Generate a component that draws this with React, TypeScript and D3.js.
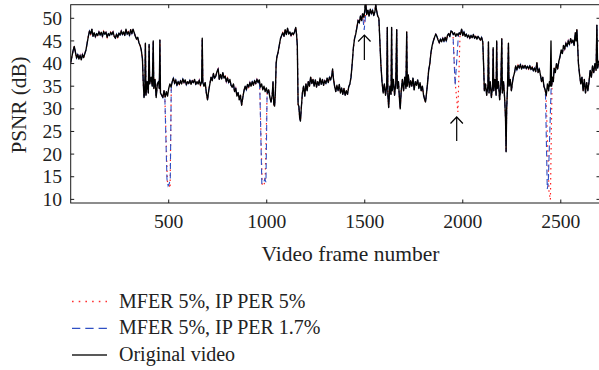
import React from "react";
import * as d3 from "d3";

// [frame, PSNR dB]
const originalVideo: [number, number][] = [
  [0, 40.2], [6, 41.5], [12, 42.8], [18, 43.8], [24, 42.5], [30, 41.2], [36, 42.0], [42, 41.0], [48, 41.8], [54, 40.8],
  [60, 42.0], [66, 41.3], [72, 42.2], [78, 43.0], [84, 44.5], [90, 46.0], [96, 47.2], [102, 46.5],
  [108, 47.6], [114, 46.0], [120, 46.8], [126, 45.9], [132, 46.6], [138, 46.2], [144, 47.0], [150, 46.3], [156, 46.9],
  [162, 46.0], [168, 47.1], [174, 46.5], [180, 46.9], [186, 45.8], [192, 46.6], [198, 46.2], [204, 46.9], [210, 46.4],
  [216, 47.0], [222, 46.0], [228, 45.6], [234, 46.5], [240, 45.8], [246, 46.7], [252, 46.3], [258, 47.2], [264, 46.4],
  [270, 47.0], [276, 46.2], [282, 47.6], [288, 46.5], [294, 47.0], [300, 46.2], [306, 47.5], [312, 46.6], [318, 47.6],
  [324, 46.8], [330, 46.0], [336, 45.4], [342, 45.8], [348, 44.6], [354, 44.0], [360, 43.0], [366, 41.0],
  [370, 36.0], [374, 32.5], [378, 34.0], [381, 44.5], [384, 33.0], [390, 36.0], [396, 33.5], [400, 44.2], [403, 35.5],
  [410, 37.0], [416, 35.0], [421, 45.0], [424, 34.5], [430, 36.5], [436, 32.5], [442, 35.5], [448, 36.0], [452, 34.5],
  [455, 45.2], [458, 33.5], [464, 33.0], [470, 32.5], [476, 34.0], [482, 32.6], [488, 33.8], [494, 32.8], [500, 34.5],
  [506, 35.5], [512, 34.8], [518, 36.0], [524, 36.8], [530, 35.6], [536, 36.4], [542, 35.2], [548, 36.0], [554, 35.4],
  [560, 36.2], [566, 35.5], [572, 36.6], [578, 35.8], [584, 36.4], [590, 35.3], [596, 36.0], [602, 35.6], [608, 36.3],
  [614, 35.4], [620, 36.2], [626, 35.8], [632, 36.5], [638, 35.4], [644, 36.0], [650, 35.5], [656, 36.3], [662, 35.2],
  [668, 36.0], [671, 45.6], [674, 35.8], [680, 35.0], [686, 35.8], [692, 33.5], [698, 32.0], [704, 34.0], [710, 35.5],
  [716, 37.0], [722, 36.2], [728, 37.8], [734, 36.8], [740, 37.2], [746, 38.2], [752, 38.8], [758, 36.5], [764, 37.6],
  [770, 36.6], [776, 38.0], [782, 36.8], [788, 37.2], [794, 36.0], [800, 36.8], [806, 35.8], [812, 36.5], [818, 35.2],
  [824, 34.8], [830, 35.5], [836, 33.8], [842, 34.5], [848, 32.8], [854, 33.6], [860, 32.0], [866, 33.0], [872, 30.8],
  [878, 32.5], [884, 34.0], [890, 35.0], [896, 34.2], [902, 35.4], [908, 34.8], [914, 35.8], [920, 35.0], [926, 36.0],
  [932, 35.2], [938, 36.2], [944, 35.6], [950, 36.5], [956, 35.8], [962, 36.4], [968, 34.8], [974, 35.5], [980, 34.2],
  [986, 35.0], [992, 33.8], [998, 34.6], [1004, 33.5], [1010, 34.2], [1016, 32.5], [1022, 31.5], [1028, 33.0],
  [1032, 36.0], [1036, 31.0], [1040, 30.6], [1044, 33.5], [1048, 40.0], [1052, 41.5], [1058, 42.5], [1064, 44.0],
  [1070, 45.5], [1076, 46.2], [1082, 46.8], [1088, 46.0], [1094, 47.5], [1100, 46.4], [1106, 47.8], [1112, 46.5],
  [1118, 47.0], [1124, 46.2], [1130, 46.8], [1136, 46.4], [1142, 47.0], [1148, 48.0], [1152, 46.5], [1156, 44.0],
  [1160, 31.0], [1164, 30.5], [1168, 28.0], [1172, 27.3], [1176, 30.0], [1182, 33.5], [1188, 35.0], [1194, 32.8],
  [1200, 35.5], [1206, 34.0], [1212, 36.0], [1218, 35.0], [1224, 37.0], [1230, 35.6], [1236, 36.5], [1242, 35.0],
  [1248, 36.4], [1254, 34.8], [1260, 36.0], [1266, 35.2], [1272, 36.8], [1278, 35.4], [1284, 36.5], [1290, 35.2],
  [1296, 36.2], [1302, 35.6], [1308, 36.8], [1314, 35.8], [1320, 37.0], [1326, 36.4], [1332, 37.4], [1336, 38.8],
  [1340, 36.8], [1346, 35.0], [1352, 33.8], [1358, 35.2], [1364, 34.0], [1370, 35.4], [1376, 33.5], [1382, 34.6],
  [1388, 33.2], [1394, 34.5], [1400, 33.0], [1406, 34.0], [1412, 33.2], [1418, 34.8], [1424, 35.5], [1430, 37.0],
  [1436, 40.0], [1442, 43.5], [1448, 45.5], [1454, 46.5], [1460, 48.0], [1466, 49.5], [1472, 49.0], [1478, 50.5],
  [1484, 49.5], [1490, 51.0], [1496, 50.2], [1502, 52.5], [1506, 53.0], [1510, 50.8], [1516, 51.8], [1522, 50.5],
  [1528, 52.0], [1534, 51.0], [1540, 51.8], [1546, 50.6], [1552, 51.5], [1556, 53.0], [1560, 51.8], [1566, 50.5],
  [1572, 50.0], [1576, 46.0], [1582, 40.0], [1588, 36.0], [1594, 33.5], [1600, 35.5], [1606, 33.0], [1612, 35.0],
  [1615, 48.0], [1618, 33.0], [1622, 30.3], [1628, 35.0], [1634, 33.2], [1637, 48.0], [1640, 34.0], [1646, 36.5],
  [1652, 33.0], [1658, 35.5], [1663, 47.5], [1666, 34.5], [1672, 36.0], [1678, 31.5], [1681, 30.0], [1686, 34.0],
  [1692, 36.5], [1698, 34.0], [1704, 37.0], [1710, 34.5], [1714, 47.0], [1717, 35.0], [1722, 37.5], [1728, 34.8],
  [1734, 36.2], [1740, 35.0], [1746, 36.8], [1752, 34.2], [1758, 36.0], [1764, 35.2], [1770, 36.4], [1776, 34.5],
  [1782, 35.8], [1788, 34.0], [1794, 35.0], [1800, 33.0], [1806, 32.0], [1810, 31.5], [1814, 33.0], [1820, 35.5],
  [1826, 38.5], [1832, 40.0], [1838, 42.5], [1844, 44.0], [1850, 45.0], [1856, 45.8], [1862, 46.5], [1868, 46.0],
  [1874, 45.2], [1880, 44.6], [1886, 45.4], [1892, 44.8], [1898, 45.6], [1904, 44.9], [1910, 45.8], [1916, 45.0],
  [1922, 46.2], [1928, 46.6], [1934, 46.0], [1940, 47.2], [1946, 47.0], [1952, 46.4], [1958, 46.8], [1964, 46.0],
  [1970, 46.6], [1976, 46.2], [1982, 46.8], [1988, 46.4], [1994, 47.6], [2000, 46.2], [2006, 47.0], [2012, 46.0],
  [2018, 46.5], [2024, 45.8], [2030, 46.3], [2036, 45.6], [2042, 46.2], [2048, 45.7], [2054, 46.4], [2060, 45.6],
  [2066, 46.0], [2072, 45.4], [2078, 46.0], [2084, 45.6], [2090, 45.2], [2096, 45.8], [2102, 44.8], [2106, 40.0],
  [2110, 34.0], [2116, 35.5], [2122, 33.0], [2128, 35.0], [2131, 44.8], [2134, 33.5], [2140, 36.0], [2146, 32.5],
  [2152, 35.0], [2155, 43.5], [2158, 34.0], [2164, 36.5], [2170, 33.0], [2173, 45.0], [2176, 34.5], [2182, 36.0],
  [2188, 32.0], [2194, 35.0], [2199, 45.5], [2202, 33.5], [2208, 36.0], [2214, 32.0], [2218, 28.0], [2221, 20.5],
  [2224, 30.0], [2228, 34.5], [2233, 44.5], [2236, 35.0], [2242, 36.5], [2248, 34.0], [2254, 36.0], [2258, 37.0],
  [2264, 38.0], [2270, 39.5], [2276, 38.6], [2282, 39.6], [2288, 39.0], [2294, 39.8], [2300, 38.8], [2306, 39.5],
  [2312, 39.0], [2318, 39.6], [2324, 38.9], [2330, 39.4], [2336, 38.8], [2342, 39.5], [2348, 38.7], [2354, 39.2],
  [2360, 38.4], [2366, 39.0], [2372, 38.2], [2378, 40.2], [2384, 38.0], [2390, 38.8], [2396, 37.5], [2402, 36.0],
  [2408, 37.0], [2414, 35.0], [2420, 34.2], [2426, 33.0], [2432, 35.5], [2438, 34.0], [2442, 36.0], [2446, 35.0],
  [2450, 45.0], [2453, 35.0], [2458, 37.0], [2462, 36.0], [2466, 39.0], [2472, 38.0], [2478, 40.0], [2484, 38.8],
  [2490, 40.5], [2496, 41.5], [2502, 43.0], [2508, 42.2], [2514, 44.0], [2520, 43.2], [2526, 44.5], [2532, 43.8],
  [2538, 45.0], [2544, 44.2], [2550, 45.5], [2556, 44.6], [2562, 45.2], [2568, 44.0], [2574, 46.8], [2578, 45.0],
  [2582, 47.5], [2586, 44.0], [2590, 40.0], [2596, 37.5], [2602, 35.5], [2608, 37.0], [2614, 34.0], [2620, 36.5],
  [2626, 33.5], [2632, 35.8], [2638, 34.0], [2644, 36.0], [2650, 38.5], [2656, 37.0], [2662, 39.5], [2668, 38.0],
  [2674, 40.0], [2680, 38.5], [2684, 48.5], [2688, 39.0], [2694, 40.5], [2700, 39.5],
];

// Frames where the lossy decodes depart from the original
const dipsPer5: [number, number][][] = [
  [[480, 33.0], [493, 14.0], [500, 13.5], [507, 12.5], [513, 35.0]],
  [[965, 34.0], [977, 13.0], [985, 13.2], [992, 14.0], [1002, 34.0]],
  [[1488, 51.0], [1497, 48.7], [1505, 51.0]],
  [[1950, 46.5], [1962, 35.5], [1975, 29.3], [1986, 46.5]],
  [[2425, 33.0], [2440, 11.5], [2447, 9.9], [2455, 35.0]],
];
const dipsPer17: [number, number][][] = [
  [[480, 33.0], [491, 14.5], [497, 13.0], [503, 13.5], [508, 14.5], [513, 35.0]],
  [[965, 34.0], [975, 13.5], [983, 13.5], [990, 14.5], [996, 13.8], [1002, 34.0]],
  [[1488, 51.0], [1497, 47.4], [1505, 51.0]],
  [[1950, 46.5], [1961, 35.2], [1978, 46.5]],
  [[2422, 33.0], [2431, 12.3], [2436, 13.5], [2451, 35.0]],
];

const xTicks = [500, 1000, 1500, 2000, 2500];
const yTicks = [10, 15, 20, 25, 30, 35, 40, 45, 50];
const legendLabels = ["MFER 5%, IP PER 5%", "MFER 5%, IP PER 1.7%", "Original video"];
const arrowMarks = [
  { frame: 1498, tip: 46.3, tail: 40.8 },
  { frame: 1969, tip: 28.2, tail: 22.9 },
];

function withDips(base: [number, number][], dips: [number, number][][]) {
  let pts = base.slice();
  for (const dip of dips) {
    const lo = dip[0][0];
    const hi = dip[dip.length - 1][0];
    pts = pts.filter((p) => p[0] < lo || p[0] > hi).concat(dip);
  }
  return pts.sort((a, b) => a[0] - b[0]);
}

const FONT = "'Liberation Serif', 'Times New Roman', serif";

export default function App() {
  const W = 599, H = 370;
  const left = 70.7, right = 600, top = 4.7, bottom = 203;
  const x = d3.scaleLinear().domain([0, 2700]).range([left, right]);
  const y = d3.scaleLinear().domain([9.2, 53]).range([bottom, top]);
  const line = d3
    .line<[number, number]>()
    .x((d) => x(d[0]))
    .y((d) => y(d[1]));

  const s5 = withDips(originalVideo, dipsPer5);
  const s17 = withDips(originalVideo, dipsPer17);

  const red = "#ff2020";
  const blue = "#2f4fc4";
  const axisColor = "#1a1a1a";
  const tl = 3.5;

  const legendLineY = [301.5, 328.3, 355];
  const legendTextY = [307.5, 334, 360.7];

  return (
    <svg
      width={W}
      height={H}
      style={{ position: "absolute", left: 0, top: 0, background: "#fff" }}
      fontFamily={FONT}
    >
      <rect x={0} y={0} width={W} height={H} fill="#fff" />
      <defs>
        <clipPath id="plot">
          <rect x={left} y={top - 2} width={right - left} height={bottom - top + 2} />
        </clipPath>
      </defs>
      <g clipPath="url(#plot)">
        <path d={line(s5) || ""} fill="none" stroke={red} strokeWidth={1.2} strokeDasharray="1.5 3.5" />
        <path d={line(s17) || ""} fill="none" stroke={blue} strokeWidth={1.1} strokeDasharray="6 3.5" />
        <path d={line(originalVideo) || ""} fill="none" stroke="#000" strokeWidth={1.35} strokeLinejoin="round" />
      </g>

      {/* axes box */}
      <rect x={left} y={top} width={right - left} height={bottom - top} fill="none" stroke={axisColor} strokeWidth={1} />
      {xTicks.map((t) => (
        <g key={"xt" + t}>
          <line x1={x(t)} x2={x(t)} y1={bottom} y2={bottom - tl} stroke={axisColor} />
          <line x1={x(t)} x2={x(t)} y1={top} y2={top + tl} stroke={axisColor} />
          <text x={x(t)} y={228} textAnchor="middle" fontSize={19.6} fill="#222">
            {t}
          </text>
        </g>
      ))}
      {yTicks.map((t) => (
        <g key={"yt" + t}>
          <line x1={left} x2={left + tl} y1={y(t)} y2={y(t)} stroke={axisColor} />
          <line x1={right} x2={right - tl} y1={y(t)} y2={y(t)} stroke={axisColor} />
          <text x={62} y={y(t)} dy="0.34em" textAnchor="end" fontSize={19.6} fill="#222">
            {t}
          </text>
        </g>
      ))}

      {/* arrows */}
      {arrowMarks.map((a, i) => {
        const ax = x(a.frame);
        const ty = y(a.tip);
        const by = y(a.tail);
        return (
          <g key={"ar" + i} stroke="#000" strokeWidth={1.2} fill="none">
            <line x1={ax} x2={ax} y1={by} y2={ty} />
            <polyline points={`${ax - 6.2},${ty + 6.5} ${ax},${ty} ${ax + 6.2},${ty + 6.5}`} />
          </g>
        );
      })}

      <text x={350.5} y={261} textAnchor="middle" fontSize={21.5} fill="#222">
        Video frame number
      </text>
      <text
        transform={`translate(25.5,105) rotate(-90)`}
        textAnchor="middle"
        fontSize={21.2}
        fill="#222"
      >
        PSNR (dB)
      </text>

      {/* legend */}
      <line x1={72} x2={107} y1={legendLineY[0]} y2={legendLineY[0]} stroke="#ff3030" strokeWidth={1.4} strokeDasharray="1.6 5.1" />
      <line x1={72} x2={107} y1={legendLineY[1]} y2={legendLineY[1]} stroke={blue} strokeWidth={1.2} strokeDasharray="8.3 5" />
      <line x1={72} x2={107} y1={legendLineY[2]} y2={legendLineY[2]} stroke="#222" strokeWidth={1.3} />
      {legendLabels.map((l, i) => (
        <text key={l} x={119} y={legendTextY[i]} fontSize={20} fill="#222">
          {l}
        </text>
      ))}
    </svg>
  );
}
